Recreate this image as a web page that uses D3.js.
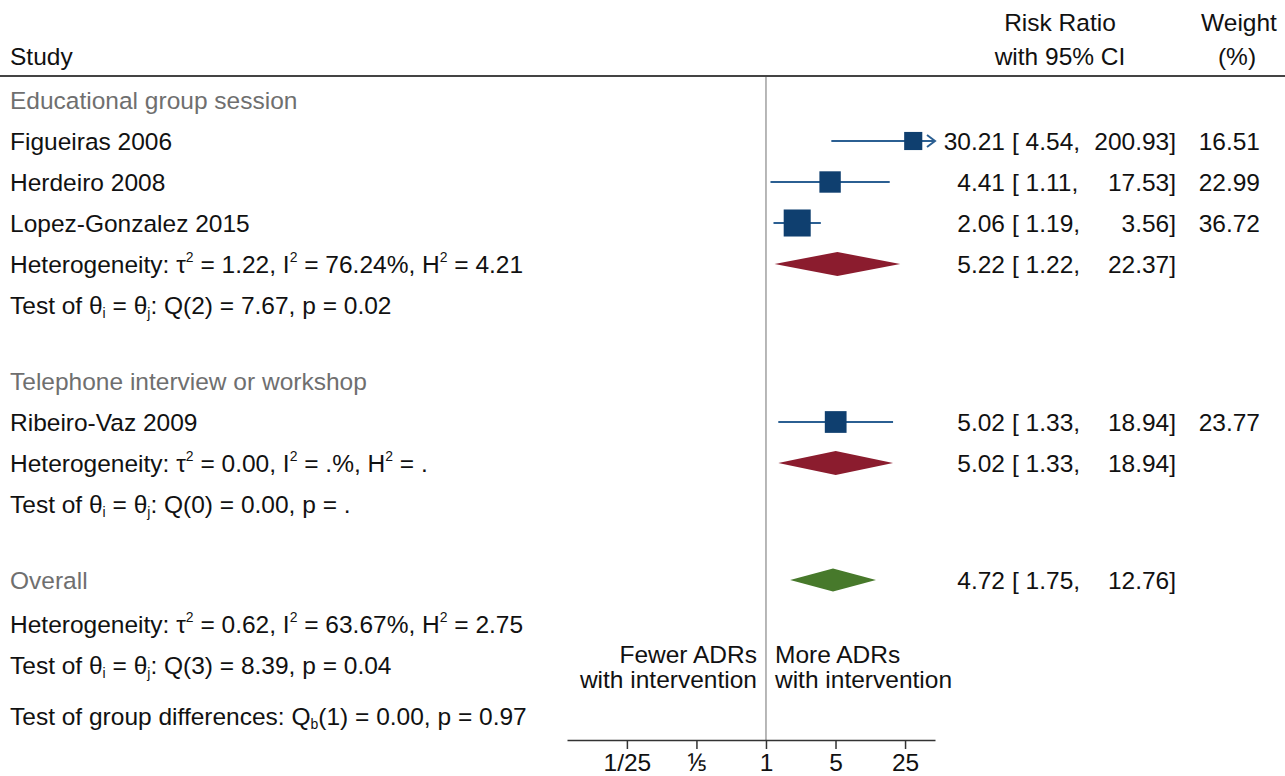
<!DOCTYPE html>
<html>
<head>
<meta charset="utf-8">
<script src="https://cdn.jsdelivr.net/npm/d3@7"></script>
<style>
  html, body { margin: 0; padding: 0; background: #fff; }
  svg { display: block; font-family: "Liberation Sans", Arial, Helvetica, sans-serif; }
</style>
</head>
<body>
<svg id="chart" width="1285" height="776"></svg>
<script>
// ---- Study-level results ----
const studyNames  = ["Figueiras 2006", "Herdeiro 2008", "Lopez-Gonzalez 2015", "Ribeiro-Vaz 2009"];
const studyGroup  = [0, 0, 0, 1];
const studyRR     = [30.21, 4.41, 2.06, 5.02];
const studyLo     = [4.54, 1.11, 1.19, 1.33];
const studyHi     = [200.93, 17.53, 3.56, 18.94];
const studyWeight = [16.51, 22.99, 36.72, 23.77];

// ---- Subgroup pooled results ----
const groupNames = ["Educational group session", "Telephone interview or workshop"];
const groupRR    = [5.22, 5.02];
const groupLo    = [1.22, 1.33];
const groupHi    = [22.37, 18.94];
const groupTau2  = ["1.22", "0.00"];
const groupI2    = ["76.24%", ".%"];
const groupH2    = ["4.21", "."];
const groupQdf   = ["2", "0"];
const groupQ     = ["7.67", "0.00"];
const groupP     = ["0.02", "."];

// ---- Overall pooled result ----
const overallRR  = [4.72];
const overallLo  = [1.75];
const overallHi  = [12.76];
const overallHet = ["0.62", "63.67%", "2.75"];   // tau2, I2, H2
const overallQ   = ["3", "8.39", "0.04"];        // df, Q, p
const groupDiff  = ["1", "0.00", "0.97"];        // df, Qb, p

// ---- Axis ----
const tickValues = [1 / 25, 1 / 5, 1, 5, 25];
const tickLabels = ["1/25", "\u2155", "1", "5", "25"];
const xDomain    = [0.01, 50];
const leftNote   = ["Fewer ADRs", "with intervention"];
const rightNote  = ["More ADRs", "with intervention"];

// ---------------------------------------------------------------
const W = 1285, H = 776;
const FS = 24.5;
const svg = d3.select("#chart");
const fmt = d3.format(".2f");

const colSquare = "#0f3f6f", colCI = "#2b5f92";
const colGroupDiamond = "#8b1c2e", colOverallDiamond = "#47792b";
const colGrey = "#6f6f6f";

const x = d3.scaleLog().domain(xDomain).range([567, 935]);
const axisY = 740, headerLineY = 76;

function hetParts(tau2, i2, h2) {
  return [{ t: "Heterogeneity: \u03C4" }, { t: "2", sup: true }, { t: " = " + tau2 + ", I" },
          { t: "2", sup: true }, { t: " = " + i2 + ", H" }, { t: "2", sup: true }, { t: " = " + h2 }];
}
function testParts(df, q, p) {
  return [{ t: "Test of \u03B8" }, { t: "i", sub: true }, { t: " = \u03B8" }, { t: "j", sub: true },
          { t: ": Q(" + df + ") = " + q + ", p = " + p }];
}

// Build the list of table rows
const rows = [];
groupNames.forEach((g, gi) => {
  rows.push({ kind: "title", text: [{ t: g }] });
  studyNames.forEach((s, i) => {
    if (studyGroup[i] === gi) rows.push({ kind: "study", i, text: [{ t: s }] });
  });
  rows.push({ kind: "group", gi, text: hetParts(groupTau2[gi], groupI2[gi], groupH2[gi]) });
  rows.push({ kind: "test", text: testParts(groupQdf[gi], groupQ[gi], groupP[gi]) });
});
rows.push({ kind: "overallTitle", text: [{ t: "Overall" }] });
rows.push({ kind: "overallHet", text: hetParts(overallHet[0], overallHet[1], overallHet[2]) });
rows.push({ kind: "test", text: testParts(overallQ[0], overallQ[1], overallQ[2]) });
rows.push({
  kind: "diff",
  text: [{ t: "Test of group differences: Q" }, { t: "b", sub: true },
         { t: "(" + groupDiff[0] + ") = " + groupDiff[1] + ", p = " + groupDiff[2] }]
});

// Vertical layout: fixed row pitch, wider gaps between blocks
const pitch = 41;
let yCur = 100;
rows.forEach((r, k) => {
  if (k > 0) {
    let step = pitch;
    if (r.kind === "title" || r.kind === "overallTitle") step = 76;
    else if (r.kind === "overallHet") step = 44;
    else if (r.kind === "diff") step = 51;
    yCur += step;
  }
  r.y = yCur;
});

// Rich text helper (super/subscripts shift, next run shifts back)
function richText(sel, parts, size) {
  let pending = 0;
  parts.forEach(p => {
    const ts = sel.append("tspan");
    let dy = pending;
    pending = 0;
    if (p.sup || p.sub) {
      const shift = p.sup ? -0.42 * size : 0.20 * size;
      dy += shift;
      pending = -shift;
      ts.attr("font-size", size * 0.57);
    } else {
      ts.attr("font-size", size);
    }
    if (dy !== 0) ts.attr("dy", dy);
    ts.text(p.t);
  });
}

const base = 8.5; // baseline offset from row centre

// Header
const hdr = svg.append("g").attr("fill", "#111").attr("font-size", FS);
hdr.append("text").attr("x", 10).attr("y", 56 + base).text("Study");
hdr.append("text").attr("x", 1060).attr("y", 22 + base).attr("text-anchor", "middle").text("Risk Ratio");
hdr.append("text").attr("x", 1060).attr("y", 56 + base).attr("text-anchor", "middle").text("with 95% CI");
hdr.append("text").attr("x", 1239).attr("y", 22 + base).attr("text-anchor", "middle").text("Weight");
hdr.append("text").attr("x", 1237).attr("y", 56 + base).attr("text-anchor", "middle").text("(%)");
svg.append("line").attr("x1", 0).attr("x2", W).attr("y1", headerLineY).attr("y2", headerLineY)
  .attr("stroke", "#444").attr("stroke-width", 2);

// Line of no effect
svg.append("line").attr("x1", x(1)).attr("x2", x(1)).attr("y1", headerLineY + 1).attr("y2", axisY)
  .attr("stroke", "#999").attr("stroke-width", 1.4);

// Left-column labels
const labels = svg.append("g");
rows.forEach(r => {
  const grey = r.kind === "title" || r.kind === "overallTitle";
  const t = labels.append("text").attr("x", 10).attr("y", r.y + base)
    .attr("fill", grey ? colGrey : "#111");
  richText(t, r.text, FS);
});

// Right-column numbers
const cols = svg.append("g").attr("fill", "#111").attr("font-size", FS);
function ciText(y, est, lo, hi, w) {
  cols.append("text").attr("x", 1005).attr("y", y + base).attr("text-anchor", "end").text(fmt(est));
  cols.append("text").attr("x", 1012).attr("y", y + base).text("[ " + fmt(lo) + ",");
  cols.append("text").attr("x", 1176).attr("y", y + base).attr("text-anchor", "end").text(fmt(hi) + "]");
  if (w != null) cols.append("text").attr("x", 1260).attr("y", y + base).attr("text-anchor", "end").text(fmt(w));
}

const marks = svg.append("g");
const sideK = 4.46;
const xMax = xDomain[1];

rows.forEach(r => {
  if (r.kind === "study") {
    const i = r.i;
    const clipped = studyHi[i] > xMax;
    const xHi = x(Math.min(studyHi[i], xMax));
    marks.append("line").attr("x1", x(studyLo[i])).attr("x2", xHi)
      .attr("y1", r.y).attr("y2", r.y).attr("stroke", colCI).attr("stroke-width", 2);
    if (clipped) {
      marks.append("path")
        .attr("d", `M${xHi - 8},${r.y - 6}L${xHi},${r.y}L${xHi - 8},${r.y + 6}`)
        .attr("fill", "none").attr("stroke", colCI).attr("stroke-width", 2);
    }
    const s = sideK * Math.sqrt(studyWeight[i]);
    marks.append("rect").attr("x", x(studyRR[i]) - s / 2).attr("y", r.y - s / 2)
      .attr("width", s).attr("height", s).attr("fill", colSquare);
    ciText(r.y, studyRR[i], studyLo[i], studyHi[i], studyWeight[i]);
  }
  if (r.kind === "group") {
    const gi = r.gi, h = 12;
    marks.append("path")
      .attr("d", `M${x(groupLo[gi])},${r.y}L${x(groupRR[gi])},${r.y - h}L${x(groupHi[gi])},${r.y}L${x(groupRR[gi])},${r.y + h}Z`)
      .attr("fill", colGroupDiamond);
    ciText(r.y, groupRR[gi], groupLo[gi], groupHi[gi], null);
  }
  if (r.kind === "overallTitle") {
    const h = 11.5;
    marks.append("path")
      .attr("d", `M${x(overallLo[0])},${r.y}L${x(overallRR[0])},${r.y - h}L${x(overallHi[0])},${r.y}L${x(overallRR[0])},${r.y + h}Z`)
      .attr("fill", colOverallDiamond);
    ciText(r.y, overallRR[0], overallLo[0], overallHi[0], null);
  }
});

// Direction notes
const notes = svg.append("g").attr("fill", "#111").attr("font-size", FS);
leftNote.forEach((t, k) => notes.append("text").attr("x", x(1) - 9).attr("y", 663 + k * 25)
  .attr("text-anchor", "end").text(t));
rightNote.forEach((t, k) => notes.append("text").attr("x", x(1) + 9).attr("y", 663 + k * 25)
  .text(t));

// Axis
const axis = d3.axisBottom(x).tickValues(tickValues).tickFormat((d, i) => tickLabels[i])
  .tickSize(9).tickPadding(5).tickSizeOuter(0);
const ag = svg.append("g").attr("transform", `translate(0,${axisY})`).call(axis);
ag.select(".domain").attr("stroke", "#333").attr("stroke-width", 1.5);
ag.selectAll(".tick line").attr("stroke", "#333").attr("stroke-width", 1.5);
ag.selectAll(".tick text").attr("fill", "#111").attr("font-size", FS)
  .attr("font-family", "'Liberation Sans', Arial, Helvetica, sans-serif");
</script>
</body>
</html>
